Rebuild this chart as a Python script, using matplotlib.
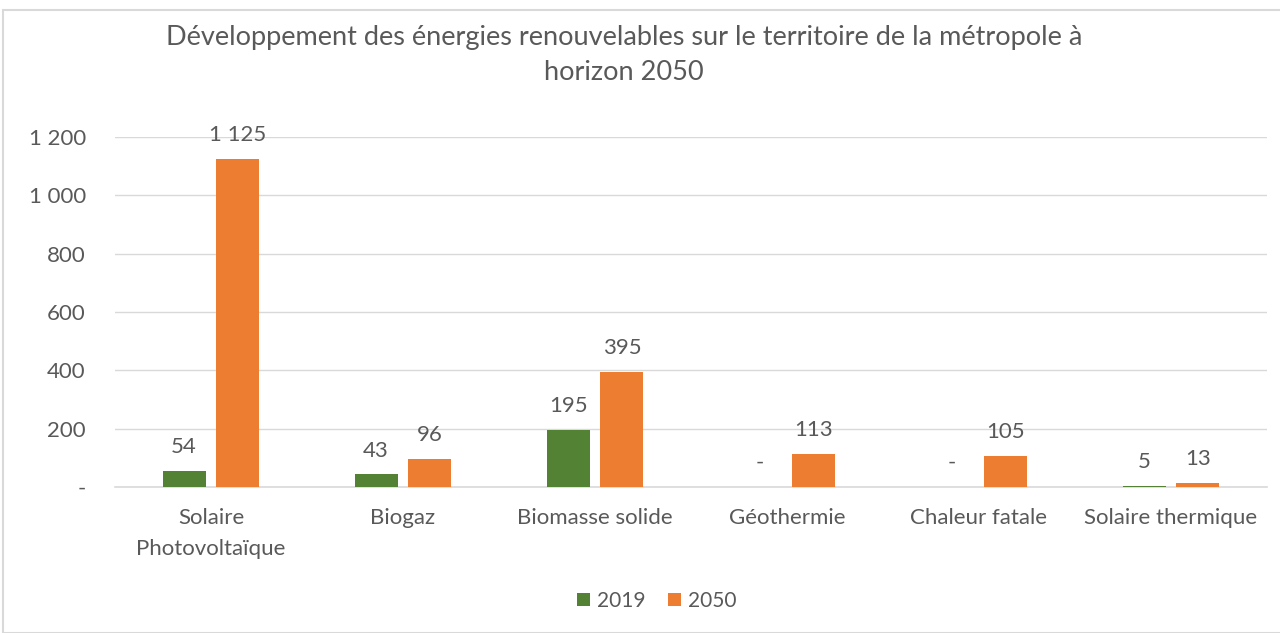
import numpy as np
import matplotlib.pyplot as plt
from matplotlib.patches import Rectangle
from matplotlib.ticker import FuncFormatter

# data
categories = ["Solaire\nPhotovoltaïque", "Biogaz", "Biomasse solide",
              "Géothermie", "Chaleur fatale", "Solaire thermique"]
values_2019 = [54, 43, 195, 0, 0, 5]
values_2050 = [1125, 96, 395, 113, 105, 13]
series_names = ["2019", "2050"]
title = "Développement des énergies renouvelables sur le territoire de la métropole à\nhorizon 2050"

green = "#548235"
orange = "#ED7D31"
text_col = "#595959"
grid_col = "#D9D9D9"

plt.rcParams["font.family"] = ["Lato", "DejaVu Sans"]

def fmt(v):
    if v == 0:
        return "-"
    return f"{int(round(v)):,}".replace(",", " ")

fig = plt.figure(figsize=(12.8, 6.33), dpi=100)
fig.patches.append(Rectangle((3 / 1280, 0), 1.2, 1 - 10 / 633, transform=fig.transFigure,
                             fill=False, edgecolor=grid_col, linewidth=1.5))

ax = fig.add_axes([115 / 1280, 1 - 487 / 633, 1152 / 1280, 350 / 633])

x = np.arange(len(categories))
w = 0.224
gap = 0.028
b1 = ax.bar(x - w / 2 - gap, values_2019, w, color=green, label=series_names[0], zorder=3)
b2 = ax.bar(x + w / 2 + gap, values_2050, w, color=orange, label=series_names[1], zorder=3)

for bars in (b1, b2):
    for rect in bars:
        h = rect.get_height()
        ax.annotate(fmt(h), (rect.get_x() + rect.get_width() / 2, h),
                    xytext=(0, 10), textcoords="offset points",
                    ha="center", va="bottom", fontsize=16, color=text_col)

ax.set_xlim(-0.5, len(categories) - 0.5)
ax.set_ylim(0, 1200)
ax.set_yticks(np.arange(0, 1201, 200))
ax.yaxis.set_major_formatter(FuncFormatter(lambda v, p: fmt(v)))
ax.set_xticks(x)
ax.set_xticklabels(categories, fontsize=16, color=text_col, linespacing=1.7)
ax.tick_params(axis="y", labelsize=16, labelcolor=text_col, length=0, pad=21)
ax.tick_params(axis="x", length=0, pad=15)
ax.grid(axis="y", color=grid_col, linewidth=1, zorder=0)
for s in ["top", "right", "left"]:
    ax.spines[s].set_visible(False)
ax.spines["bottom"].set_color(grid_col)
ax.spines["bottom"].set_linewidth(1.2)

fig.text(624 / 1280, 1 - 55 / 633, title, ha="center", va="center",
         fontsize=19.5, color=text_col, linespacing=1.48)

fig.legend(loc="center", bbox_to_anchor=(657 / 1280, 1 - 601 / 633), ncol=2,
           frameon=False, fontsize=15, labelcolor=text_col,
           handlelength=0.6, handleheight=0.6, columnspacing=1.1, handletextpad=0.35)

fig.savefig("out.png", dpi=100)
